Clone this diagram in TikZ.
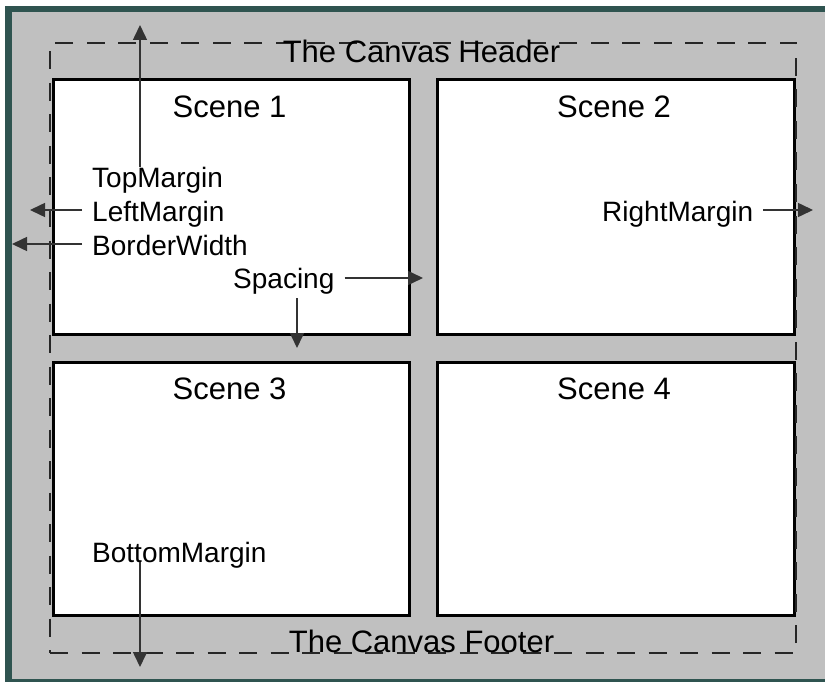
\documentclass[tikz,border=0pt]{standalone}
\usepackage{fontspec}
\setmainfont{Liberation Sans}
\usetikzlibrary{arrows.meta}
\definecolor{tealframe}{HTML}{2F5450}
\definecolor{bggrey}{HTML}{C0C0C0}
\begin{document}
\begin{tikzpicture}[x=1pt,y=-1pt,
  scenebox/.style={draw=black, line width=3pt, fill=white, inner sep=0pt, anchor=north west},
  canvasbox/.style={draw=black!85, line width=2pt, dash pattern=on 18pt off 13.5pt, inner sep=0pt, anchor=north west},
  lab/.style={inner sep=0pt, anchor=base west, font=\fontsize{28}{34}\selectfont},
  ttl/.style={inner sep=0pt, anchor=base, font=\fontsize{31}{36}\selectfont},
  arr/.style={draw=black!80, line width=1.5pt, -{Triangle[length=15pt,width=14pt]}}]
\useasboundingbox (0,0) rectangle (825,682);
\clip (0,0) rectangle (825,682);
\fill[white] (0,0) rectangle (825,682);
\fill[tealframe] (5,6) rectangle (840,700);
\fill[bggrey] (12,12) rectangle (840,679);
% scenes
\node[scenebox, minimum width=356pt, minimum height=254pt] (s1) at (51.5,78.5) {};
\node[scenebox, minimum width=357pt, minimum height=254pt] (s2) at (435.5,78.5) {};
\node[scenebox, minimum width=356pt, minimum height=253.5pt] (s3) at (51.5,360.5) {};
\node[scenebox, minimum width=357pt, minimum height=253.5pt] (s4) at (435.5,360.5) {};
% canvas
\node[canvasbox, minimum width=746pt, minimum height=610pt] (cv) at (49,42) {};
% titles
\node[ttl] (t1) at (229.5,118) {Scene 1};
\node[ttl] (t2) at (614,118) {Scene 2};
\node[ttl] (t3) at (229.5,399) {Scene 3};
\node[ttl] (t4) at (614,399) {Scene 4};
\node[ttl] (hdr) at (421.5,63) {The Canvas Header};
\node[ttl] (ftr) at (421.5,652) {The Canvas Footer};
% labels
\node[lab] (tm) at (92,187) {TopMargin};
\node[lab] (lm) at (92,222) {LeftMargin};
\node[lab] (bw) at (92,255) {BorderWidth};
\node[lab] (sp) at (233,288) {Spacing};
\node[lab] (rm) at (602,222) {RightMargin};
\node[lab] (bm) at (92,562) {BottomMargin};
% arrow tips
\coordinate (tmtip) at (140,25);
\coordinate (lmtip) at (30,210);
\coordinate (bwtip) at (12,244);
\coordinate (sprtip) at (423,278);
\coordinate (spdtip) at (297,348);
\coordinate (rmtip) at (813,210);
\coordinate (bmtip) at (140,667);
% arrows
\draw[arr] (tm.north -| tmtip) -- (tmtip);
\draw[arr] ([xshift=-10pt]lm.west |- lmtip) -- (lmtip);
\draw[arr] ([xshift=-10pt]bw.west |- bwtip) -- (bwtip);
\draw[arr] ([xshift=10pt]sp.east |- sprtip) -- (sprtip);
\draw[arr] ([yshift=-4pt]sp.south -| spdtip) -- (spdtip);
\draw[arr] ([xshift=10pt]rm.east |- rmtip) -- (rmtip);
\draw[arr] (bm.base -| bmtip) -- (bmtip);
\end{tikzpicture}
\end{document}
